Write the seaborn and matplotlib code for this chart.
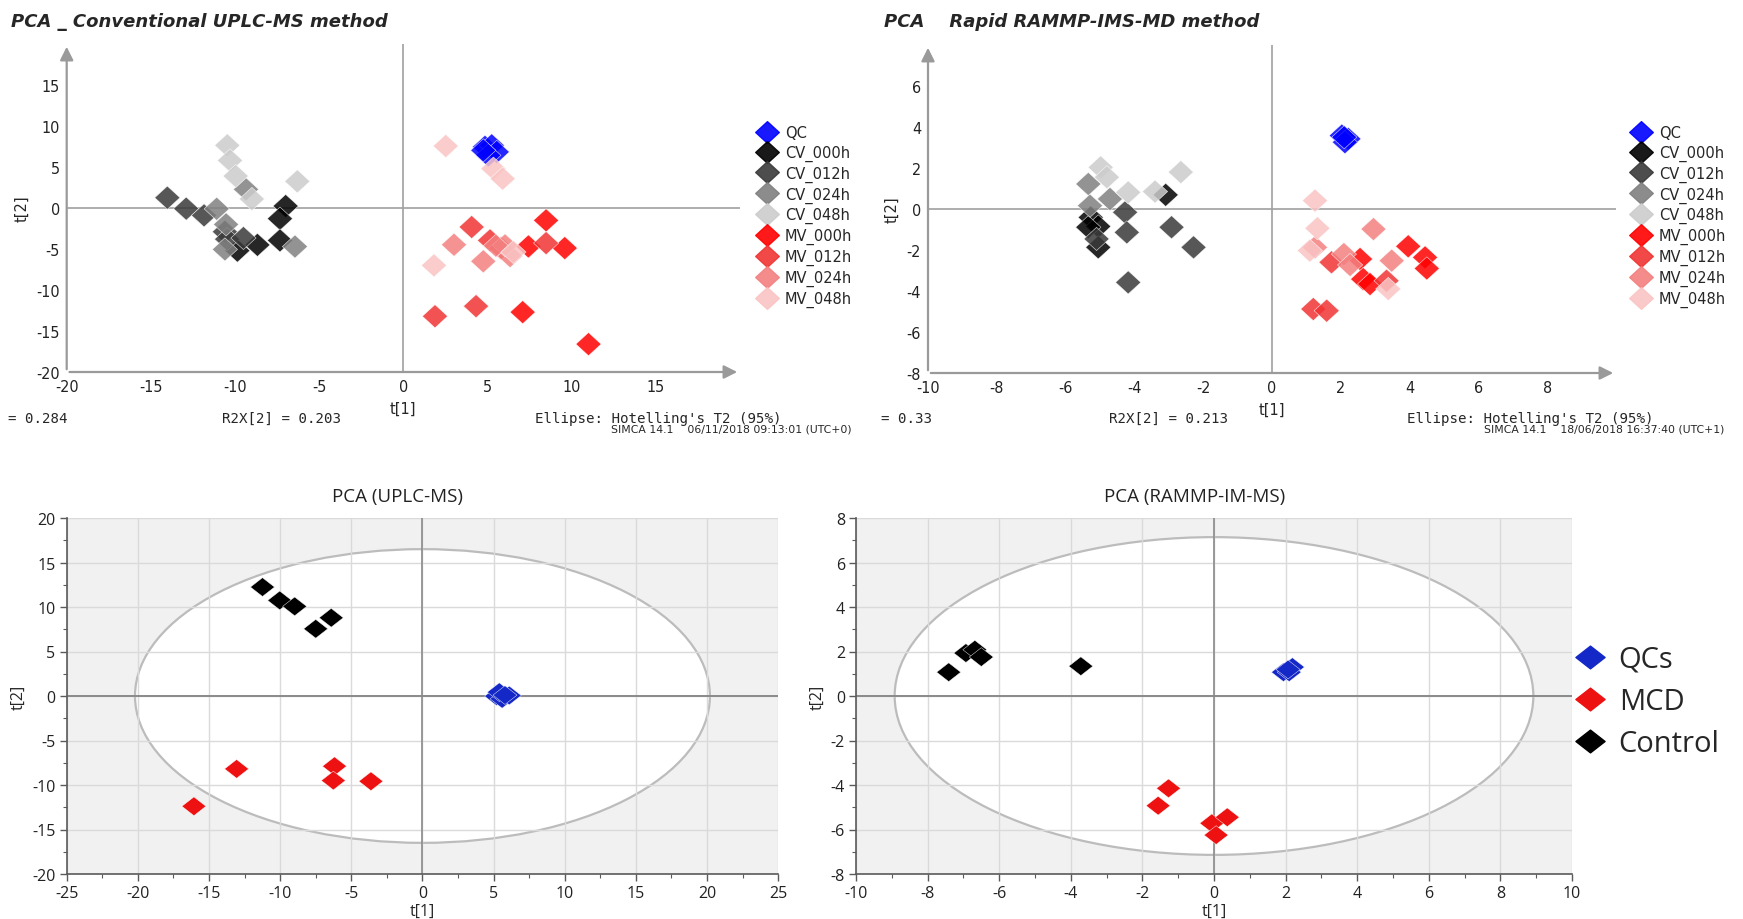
import matplotlib
matplotlib.use('Agg')
import matplotlib.pyplot as plt
import seaborn as sns
import pandas as pd
from matplotlib.patches import Ellipse
from matplotlib.lines import Line2D
from matplotlib.path import Path
from matplotlib.ticker import MultipleLocator

# ---- top panels: SIMCA score plots, 9 groups ----
top_order = ['QC', 'CV_000h', 'CV_012h', 'CV_024h', 'CV_048h',
             'MV_000h', 'MV_012h', 'MV_024h', 'MV_048h']
top_colors = ['#0000ff', '#000000', '#3a3a3a', '#808080', '#cccccc',
              '#ff0000', '#f03434', '#f48080', '#fac4c4']

uplc_group = (['QC'] * 5 + ['CV_000h'] * 5 + ['CV_012h'] * 6 + ['CV_024h'] * 5 +
              ['CV_048h'] * 5 + ['MV_000h'] * 5 + ['MV_012h'] * 6 + ['MV_024h'] * 5 +
              ['MV_048h'] * 5)
uplc_t1 = [4.85, 5.25, 5.55, 5.05, 4.75,
           -6.99, -7.33, -7.33, -8.67, -9.86,
           -14.02, -12.9, -11.84, -10.6, -10.47, -9.5,
           -9.35, -11.09, -10.53, -10.6, -6.44,
           -10.46, -10.3, -9.96, -9.0, -6.3,
           8.48, 7.43, 9.59, 7.09, 11.0,
           4.06, 5.15, 8.48, 1.88, 4.32, 5.8,
           3.01, 4.75, 6.34, 6.04, 5.5,
           2.52, 5.35, 5.9, 1.82, 6.54]
uplc_t2 = [7.45, 7.64, 6.84, 6.42, 7.03,
           0.24, -1.3, -3.95, -4.5, -5.2,
           1.26, -0.08, -0.9, -2.9, -3.8, -3.66,
           2.28, -0.1, -2.0, -5.05, -4.7,
           7.64, 5.8, 3.9, 1.1, 3.25,
           -1.51, -4.69, -4.89, -12.7, -16.6,
           -2.32, -3.95, -4.28, -13.2, -11.97, -4.9,
           -4.48, -6.5, -5.86, -4.56, -4.6,
           7.56, 4.8, 3.58, -7.0, -5.37]

ims_group = (['QC'] * 4 + ['CV_000h'] * 5 + ['CV_012h'] * 6 + ['CV_024h'] * 3 +
             ['CV_048h'] * 5 + ['MV_000h'] * 6 + ['MV_012h'] * 4 + ['MV_024h'] * 5 +
             ['MV_048h'] * 4)
ims_t1 = [2.03, 2.22, 2.12, 2.1,
          -5.27, -5.05, -5.34, -5.05, -3.09,
          -4.27, -4.22, -4.18, -5.1, -2.92, -2.28,
          -5.34, -4.71, -5.29,
          -4.98, -4.8, -4.18, -3.4, -2.65,
          3.96, 4.45, 4.5, 2.56, 2.65, 2.85,
          1.2, 1.59, 1.73, 3.33,
          2.95, 2.09, 3.48, 2.27, 1.25,
          1.25, 1.32, 3.38, 1.1]
ims_t2 = [3.58, 3.42, 3.26, 3.5,
          -0.41, -0.85, -0.89, -1.87, 0.69,
          -0.16, -1.14, -3.58, -1.46, -0.89, -1.87,
          1.22, 0.49, 0.16,
          2.03, 1.55, 0.81, 0.85, 1.8,
          -1.82, -2.36, -2.9, -2.44, -3.42, -3.66,
          -4.88, -4.96, -2.6, -3.5,
          -0.98, -2.2, -2.52, -2.73, -1.87,
          0.41, -0.94, -3.9, -2.03]

# ---- bottom panels: 3 groups with Hotelling ellipse ----
bot_order = ['QCs', 'MCD', 'Control']
bot_colors = ['#1428c8', '#ee1111', '#000000']

uplc2_group = ['Control'] * 5 + ['MCD'] * 5 + ['QCs'] * 5
uplc2_t1 = [-11.24, -10.03, -8.98, -7.5, -6.41,
            -13.06, -6.18, -6.26, -3.62, -16.06,
            5.21, 5.6, 6.1, 5.4, 5.8]
uplc2_t2 = [12.24, 10.74, 10.07, 7.55, 8.79,
            -8.19, -7.89, -9.5, -9.58, -12.39,
            -0.02, -0.32, 0.06, 0.43, 0.1]
uplc2_ellipse = (20.2, 16.5)

ims2_group = ['Control'] * 5 + ['MCD'] * 5 + ['QCs'] * 4
ims2_t1 = [-7.41, -6.93, -6.68, -6.5, -3.72,
           -1.27, -1.56, -0.06, 0.37, 0.06,
           1.94, 2.19, 2.1, 2.07]
ims2_t2 = [1.07, 1.93, 2.08, 1.75, 1.34,
           -4.15, -4.93, -5.72, -5.45, -6.25,
           1.07, 1.3, 1.07, 1.19]
ims2_ellipse = (8.92, 7.14)

sns.set_theme(style='white')
plt.rcParams['font.family'] = ['DejaVu Sans']
plt.rcParams['axes.unicode_minus'] = False

W, H = 1743, 920
fig = plt.figure(figsize=(W / 100, H / 100), dpi=100)


def px(x, y):
    return x / W, 1 - y / H


top_diamond = Path([(-1, 0), (0, 0.92), (1, 0), (0, -0.92), (-1, 0)],
                   [Path.MOVETO, Path.LINETO, Path.LINETO, Path.LINETO, Path.CLOSEPOLY])
flat_diamond = Path([(-1, 0), (0, 0.78), (1, 0), (0, -0.78), (-1, 0)],
                    [Path.MOVETO, Path.LINETO, Path.LINETO, Path.LINETO, Path.CLOSEPOLY])

sans = ['Open Sans', 'DejaVu Sans']


def top_panel(rect, groups, t1, t2, lim_x, lim_y, step, title, title_xy,
              stats, simca, legend_x):
    ax = fig.add_axes(rect)
    df = pd.DataFrame({'t1': t1, 't2': t2, 'group': groups})
    sns.scatterplot(data=df, x='t1', y='t2', hue='group', hue_order=top_order,
                    palette=top_colors, marker=top_diamond, s=330, alpha=0.85,
                    linewidth=0.4, legend=False, ax=ax, zorder=3)
    ax.set_xlim(*lim_x)
    ax.set_ylim(*lim_y)
    ax.set_xticks(range(lim_x[0], lim_x[1], step))
    ax.set_yticks(range(lim_y[0], lim_y[1], step))
    for s in ax.spines.values():
        s.set_visible(False)
    ax.axhline(0, color='#a0a0a0', lw=1.2, zorder=1)
    ax.axvline(0, color='#a0a0a0', lw=1.2, zorder=1)
    arrow = dict(arrowstyle='-|>', color='#9a9a9a', lw=1.6, mutation_scale=20)
    ax.annotate('', xy=(0, 1.0), xytext=(0, 0), xycoords='axes fraction', arrowprops=arrow)
    ax.annotate('', xy=(1.0, 0), xytext=(0, 0), xycoords='axes fraction', arrowprops=arrow)
    ax.tick_params(length=0, labelsize=11.5, pad=5, labelcolor='#222222')
    for lab in ax.get_xticklabels() + ax.get_yticklabels():
        lab.set_fontstretch('condensed')
    ax.set_xlabel('t[1]', fontsize=10.5, labelpad=5)
    ax.set_ylabel('t[2]', fontsize=10.5, labelpad=5)

    fig.text(*px(*title_xy), title, fontsize=13, fontweight='bold', style='italic',
             va='center', ha='left')
    for txt, x in stats:
        fig.text(*px(x, 419), txt, family='DejaVu Sans Mono', fontsize=10.2, va='center')
    fig.text(*px(simca[1], 430), simca[0], fontsize=7.8, va='center')

    handles = [Line2D([], [], ls='none', marker=top_diamond, markersize=17,
                      markerfacecolor=c, markeredgecolor=c, alpha=0.9)
               for c in top_colors]
    fig.legend(handles, top_order, loc='upper left', bbox_to_anchor=px(legend_x, 126),
               frameon=False, handlelength=1.4, handletextpad=0.5,
               labelspacing=0.32, borderpad=0, borderaxespad=0,
               prop={'size': 10.5})
    return ax


def bottom_panel(rect, groups, t1, t2, lim_x, lim_y, major, minor, radii, title, title_x):
    ax = fig.add_axes(rect)
    ax.set_facecolor('#f1f1f1')
    ax.add_patch(Ellipse((0, 0), 2 * radii[0], 2 * radii[1], facecolor='white',
                         edgecolor='#bcbcbc', lw=1.6, zorder=1))
    df = pd.DataFrame({'t1': t1, 't2': t2, 'group': groups})
    sns.scatterplot(data=df, x='t1', y='t2', hue='group', hue_order=bot_order,
                    palette=bot_colors, marker=flat_diamond, s=300, linewidth=0.3,
                    legend=False, ax=ax, zorder=3)
    ax.set_xlim(*lim_x)
    ax.set_ylim(*lim_y)
    ax.xaxis.set_major_locator(MultipleLocator(major[0]))
    ax.yaxis.set_major_locator(MultipleLocator(major[1]))
    ax.xaxis.set_minor_locator(MultipleLocator(minor[0]))
    ax.yaxis.set_minor_locator(MultipleLocator(minor[1]))
    ax.set_axisbelow('line')
    ax.grid(True, which='major', color='#dadada', lw=1.0, zorder=1.5)
    ax.axhline(0, color='#8a8a8a', lw=1.4, zorder=2)
    ax.axvline(0, color='#8a8a8a', lw=1.2, zorder=2)
    for side in ['top', 'right']:
        ax.spines[side].set_visible(False)
    for side in ['left', 'bottom']:
        ax.spines[side].set_color('#5a5a5a')
        ax.spines[side].set_linewidth(1.2)
    ax.tick_params(which='major', direction='out', length=5, width=1, color='#5a5a5a',
                   labelsize=11.5, pad=3, labelcolor='#222222', bottom=True, left=True)
    ax.tick_params(which='minor', direction='out', length=3, width=0.8, color='#5a5a5a',
                   bottom=True, left=True)
    ax.set_xlabel('t[1]', fontsize=11.5, labelpad=1, family=sans)
    ax.set_ylabel('t[2]', fontsize=11.5, labelpad=4, family=sans)
    for lab in ax.get_xticklabels() + ax.get_yticklabels():
        lab.set_family(sans)
    fig.text(*px(title_x, 497), title, fontsize=13.5, ha='center', va='center',
             family=sans, color='#222222')
    return ax


top_panel([66.7 / W, 1 - 373 / H, 673.3 / W, 328 / H], uplc_group, uplc_t1, uplc_t2,
          (-20, 20), (-20, 20), 5, 'PCA _ Conventional UPLC-MS method', (11, 22),
          [('= 0.284', 8), ('R2X[2] = 0.203', 222), ("Ellipse: Hotelling's T2 (95%)", 535)],
          ('SIMCA 14.1    06/11/2018 09:13:01 (UTC+0)', 611), 757)
top_panel([928 / W, 1 - 374 / H, 688 / W, 328 / H], ims_group, ims_t1, ims_t2,
          (-10, 10), (-8, 8), 2, 'PCA    Rapid RAMMP-IMS-MD method', (884, 22),
          [('= 0.33', 881), ('R2X[2] = 0.213', 1109), ("Ellipse: Hotelling's T2 (95%)", 1407)],
          ('SIMCA 14.1    18/06/2018 16:37:40 (UTC+1)', 1484), 1631)

bottom_panel([66.7 / W, 1 - 875 / H, 711.5 / W, 356 / H], uplc2_group, uplc2_t1, uplc2_t2,
             (-25, 25), (-20, 20), (5, 5), (2.5, 2.5), uplc2_ellipse, 'PCA (UPLC-MS)', 398)
bottom_panel([856 / W, 1 - 875 / H, 716 / W, 356 / H], ims2_group, ims2_t1, ims2_t2,
             (-10, 10), (-8, 8), (2, 2), (1, 1), ims2_ellipse, 'PCA (RAMMP-IM-MS)', 1195)

bot_handles = [Line2D([], [], ls='none', marker=flat_diamond, markersize=21,
                      markerfacecolor=c, markeredgecolor=c) for c in bot_colors]
fig.legend(bot_handles, bot_order, loc='upper left', bbox_to_anchor=px(1575, 646),
           frameon=False, handlelength=1.0, handletextpad=0.5, labelspacing=0.45,
           borderpad=0, borderaxespad=0, prop={'family': sans, 'size': 21})

fig.savefig('out.png', dpi=100)
